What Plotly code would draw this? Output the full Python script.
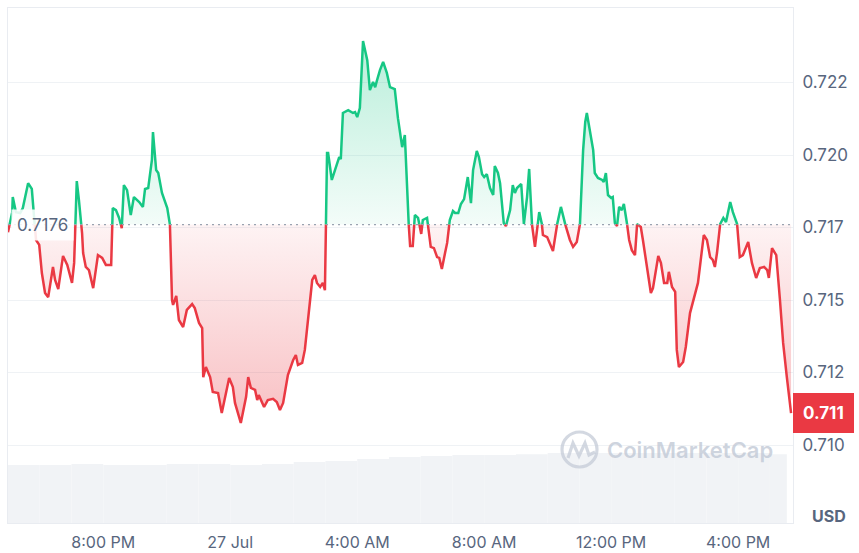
import plotly.graph_objects as go
from datetime import datetime, timedelta

# ---------------- data ----------------
START = datetime(2024, 7, 26, 17, 0)
BASELINE = 0.7176

# minutes since START
minutes = [0, 8, 9, 15, 23, 28, 38, 45, 49, 53, 59, 64, 70, 76, 85, 89, 95, 104, 112, 121,
           125, 130, 134, 140, 142, 147, 153, 161, 170, 178, 185, 195, 198, 204, 210, 215, 219, 225, 232, 238,
           248, 255, 259, 265, 268, 272, 274, 280, 284, 291, 301, 306, 310, 312, 318, 323, 331, 338, 348, 353,
           361, 367, 369, 374, 382, 387, 397, 404, 410, 418, 425, 429, 440, 450, 454, 459, 467, 471, 474, 484,
           491, 501, 508, 514, 520, 529, 539, 544, 548, 556, 561, 567, 575, 580, 584, 590, 595, 599, 603, 605,
           612, 618, 626, 629, 633, 643, 652, 656, 660, 665, 671, 679, 684, 690, 694, 697, 703, 709, 716, 722,
           731, 737, 745, 750, 756, 760, 765, 769, 775, 781, 784, 792, 799, 805, 811, 815, 820, 826, 830, 835,
           841, 845, 851, 856, 862, 869, 875, 879, 886, 890, 896, 900, 905, 911, 917, 920, 926, 930, 937, 941,
           949, 954, 958, 962, 970, 975, 981, 985, 990, 996, 1004, 1009, 1011, 1019, 1024, 1030, 1038, 1045, 1053, 1062,
           1068, 1075, 1081, 1087, 1091, 1094, 1100, 1106, 1109, 1115, 1123, 1126, 1130, 1134, 1140, 1143, 1147, 1151, 1155, 1160,
           1164, 1170, 1174, 1179, 1185, 1189, 1196, 1200, 1206, 1210, 1215, 1219, 1225, 1229, 1234, 1240, 1246, 1249, 1255, 1261,
           1264, 1268, 1276, 1281, 1289, 1297, 1304, 1315, 1321, 1327, 1332, 1336, 1340, 1346, 1352, 1357, 1365, 1370, 1378, 1383,
           1389, 1399, 1406, 1414, 1421, 1429, 1435, 1438, 1444, 1452, 1459, 1465, 1472, 1480]

prices = [0.71734, 0.71803, 0.71855, 0.71803, 0.71800, 0.71817, 0.71903, 0.71883, 0.71793, 0.71707,
          0.71690, 0.71593, 0.71524, 0.71510, 0.71614, 0.71569, 0.71538, 0.71652, 0.71621, 0.71559,
          0.71628, 0.71910, 0.71845, 0.71731, 0.71662, 0.71614, 0.71603, 0.71541, 0.71655, 0.71645,
          0.71621, 0.71621, 0.71817, 0.71810, 0.71783, 0.71748, 0.71896, 0.71879, 0.71793, 0.71855,
          0.71838, 0.71821, 0.71883, 0.71886, 0.71938, 0.71983, 0.72079, 0.71948, 0.71938, 0.71869,
          0.71817, 0.71762, 0.71500, 0.71483, 0.71514, 0.71431, 0.71407, 0.71466, 0.71486, 0.71472,
          0.71421, 0.71403, 0.71234, 0.71269, 0.71234, 0.71183, 0.71179, 0.71110, 0.71162, 0.71231,
          0.71200, 0.71145, 0.71076, 0.71166, 0.71234, 0.71197, 0.71190, 0.71155, 0.71172, 0.71131,
          0.71155, 0.71159, 0.71148, 0.71121, 0.71145, 0.71241, 0.71293, 0.71310, 0.71276, 0.71283,
          0.71328, 0.71431, 0.71569, 0.71586, 0.71559, 0.71545, 0.71559, 0.71534, 0.72007, 0.72007,
          0.71914, 0.71948, 0.71993, 0.71986, 0.72145, 0.72155, 0.72145, 0.72148, 0.72131, 0.72162,
          0.72393, 0.72327, 0.72224, 0.72252, 0.72234, 0.72255, 0.72293, 0.72321, 0.72283, 0.72234,
          0.72227, 0.72127, 0.72027, 0.72069, 0.71800, 0.71686, 0.71686, 0.71793, 0.71783, 0.71728,
          0.71776, 0.71783, 0.71683, 0.71679, 0.71648, 0.71645, 0.71607, 0.71662, 0.71697, 0.71776,
          0.71807, 0.71800, 0.71800, 0.71831, 0.71848, 0.71924, 0.71834, 0.71948, 0.72014, 0.71993,
          0.71934, 0.71924, 0.71934, 0.71886, 0.71862, 0.71962, 0.71938, 0.71903, 0.71765, 0.71755,
          0.71810, 0.71896, 0.71869, 0.71886, 0.71900, 0.71762, 0.71855, 0.71952, 0.71765, 0.71683,
          0.71803, 0.71762, 0.71724, 0.71717, 0.71697, 0.71669, 0.71762, 0.71821, 0.71762, 0.71707,
          0.71683, 0.71700, 0.71762, 0.72017, 0.72114, 0.72145, 0.72086, 0.72017, 0.71938, 0.71921,
          0.71914, 0.71907, 0.71938, 0.71862, 0.71852, 0.71855, 0.71765, 0.71755, 0.71821, 0.71810,
          0.71831, 0.71762, 0.71707, 0.71672, 0.71655, 0.71762, 0.71752, 0.71707, 0.71628, 0.71579,
          0.71524, 0.71541, 0.71603, 0.71652, 0.71628, 0.71559, 0.71559, 0.71597, 0.71545, 0.71528,
          0.71328, 0.71269, 0.71286, 0.71338, 0.71455, 0.71510, 0.71559, 0.71724, 0.71707, 0.71648,
          0.71638, 0.71614, 0.71662, 0.71762, 0.71783, 0.71769, 0.71838, 0.71803, 0.71762, 0.71648,
          0.71655, 0.71700, 0.71628, 0.71576, 0.71610, 0.71614, 0.71603, 0.71576, 0.71679, 0.71655,
          0.71500, 0.71352, 0.71234, 0.71110]

# hourly volume bars (minutes since START, relative volume)
vol_minutes = [0, 60, 120, 180, 240, 300, 360, 420, 480, 540, 600, 660, 720, 780, 840, 900,
               960, 1020, 1080, 1140, 1200, 1260, 1320, 1380, 1440]
volumes = [258, 258, 262, 258, 258, 262, 262, 258, 262, 271, 275, 284, 293, 298, 302, 302,
           306, 311, 311, 311, 311, 311, 311, 311, 306]
VOL_END_MIN = 1472

y_tickvals = [0.71, 0.7125, 0.715, 0.7175, 0.72, 0.7225]
y_ticktext = ["0.710", "0.712", "0.715", "0.717", "0.720", "0.722"]
x_tickvals = ["2024-07-26 20:00", "2024-07-27 00:00", "2024-07-27 04:00",
              "2024-07-27 08:00", "2024-07-27 12:00", "2024-07-27 16:00"]
x_ticktext = ["8:00 PM", "27 Jul", "4:00 AM", "8:00 AM", "12:00 PM", "4:00 PM"]

# ---------------- styling ----------------
GREEN = "#16c784"
RED = "#ea3943"
TEXT = "#58667e"
GRID = "#eff2f5"
FONT = "Inter"

W, H = 859, 553
ML, MR, MT, MB = 8, 66, 8, 30
PW, PH = W - ML - MR, H - MT - MB


def px(xp):
    return (xp - ML) / PW


def py(yp):
    return (H - MB - yp) / PH


times = [START + timedelta(minutes=m) for m in minutes]

# insert baseline crossings so the two colours meet exactly on the baseline
rt, rv = [], []
for i, (t, v) in enumerate(zip(times, prices)):
    if i > 0:
        t0, v0 = times[i - 1], prices[i - 1]
        if (v0 - BASELINE) * (v - BASELINE) < 0:
            f = (BASELINE - v0) / (v - v0)
            rt.append(t0 + (t - t0) * f)
            rv.append(BASELINE)
    rt.append(t)
    rv.append(v)

green_line = [v if v >= BASELINE else None for v in rv]
red_line = [v if v <= BASELINE else None for v in rv]
green_fill = [max(v, BASELINE) for v in rv]
red_fill = [min(v, BASELINE) for v in rv]
base = [BASELINE] * len(rv)

fig = go.Figure()

# volume
vol_x = [START + timedelta(minutes=m) for m in vol_minutes]
vol_w = [min(60, VOL_END_MIN - m) * 60000 for m in vol_minutes]
fig.add_trace(go.Bar(x=vol_x, y=volumes, width=vol_w, offset=0, yaxis="y2",
                     marker=dict(color="#f1f3f6", line=dict(width=0)),
                     hoverinfo="skip", showlegend=False))

# fills
fig.add_trace(go.Scatter(x=rt, y=base, mode="lines", line=dict(width=0),
                         hoverinfo="skip", showlegend=False))
fig.add_trace(go.Scatter(x=rt, y=green_fill, mode="lines", line=dict(width=0),
                         fill="tonexty",
                         fillgradient=dict(type="vertical",
                                           colorscale=[[0, "rgba(22,199,132,0.05)"],
                                                       [1, "rgba(22,199,132,0.30)"]],
                                           start=BASELINE, stop=max(prices)),
                         hoverinfo="skip", showlegend=False))
fig.add_trace(go.Scatter(x=rt, y=base, mode="lines", line=dict(width=0),
                         hoverinfo="skip", showlegend=False))
fig.add_trace(go.Scatter(x=rt, y=red_fill, mode="lines", line=dict(width=0),
                         fill="tonexty",
                         fillgradient=dict(type="vertical",
                                           colorscale=[[0, "rgba(234,57,67,0.32)"],
                                                       [1, "rgba(234,57,67,0.06)"]],
                                           start=min(prices), stop=BASELINE),
                         hoverinfo="skip", showlegend=False))

# lines
fig.add_trace(go.Scatter(x=rt, y=green_line, mode="lines",
                         line=dict(color=GREEN, width=2.5), showlegend=False))
fig.add_trace(go.Scatter(x=rt, y=red_line, mode="lines",
                         line=dict(color=RED, width=2.5), showlegend=False))

x_end = START + timedelta(minutes=PW * 1.89)

fig.update_layout(
    width=W, height=H,
    margin=dict(l=ML, r=MR, t=MT, b=MB, autoexpand=False),
    paper_bgcolor="white", plot_bgcolor="white",
    font=dict(family=FONT, color=TEXT, size=16),
    showlegend=False,
    xaxis=dict(type="date", range=[START, x_end],
               tickvals=x_tickvals, ticktext=x_ticktext,
               showgrid=False, zeroline=False,
               showline=True, linecolor="#e9ecf1", linewidth=1, mirror=True,
               ticks="outside", ticklen=5, tickcolor="rgba(0,0,0,0)",
               tickfont=dict(size=16, color=TEXT)),
    yaxis=dict(range=[0.70731, 0.72507], side="right",
               tickvals=y_tickvals, ticktext=y_ticktext,
               showgrid=True, gridcolor=GRID, gridwidth=1, zeroline=False,
               showline=True, linecolor="#e9ecf1", linewidth=1, mirror=True,
               ticks="outside", ticklen=5, tickcolor="rgba(0,0,0,0)",
               tickfont=dict(size=17, color=TEXT)),
    yaxis2=dict(domain=[0, 70 / PH], range=[0, max(volumes)], anchor="x",
                visible=False, showgrid=False),
)

# dotted baseline
fig.add_shape(type="line", xref="paper", x0=0, x1=1, yref="y", y0=BASELINE, y1=BASELINE,
              line=dict(color="#9aa3b1", width=1.2, dash="2px,4px"), layer="above")

# watermark logo
fig.add_shape(type="circle", xref="paper", yref="paper",
              x0=px(562), x1=px(597), y0=py(467), y1=py(432),
              line=dict(color="rgba(196,203,215,0.75)", width=3.2), layer="above")
logo_pts = [(568, 458), (573, 443), (579, 456), (585, 443), (589, 455), (595, 452)]
path = "M " + " L ".join(f"{px(a):.4f},{py(b):.4f}" for a, b in logo_pts)
fig.add_shape(type="path", xref="paper", yref="paper", path=path,
              line=dict(color="rgba(196,203,215,0.75)", width=3.2), layer="above")
fig.add_annotation(x=px(605), y=py(450), xref="paper", yref="paper",
                   xanchor="left", yanchor="middle", showarrow=False,
                   text="CoinMarketCap",
                   font=dict(family=FONT, size=22, color="rgba(190,198,212,0.75)", weight=600))

# baseline label
fig.add_annotation(x=px(11), y=BASELINE, xref="paper", yref="y",
                   xanchor="left", yanchor="middle", showarrow=False,
                   text=f"{BASELINE:.4f}", bgcolor="rgba(255,255,255,0.88)", borderpad=5,
                   font=dict(family=FONT, size=17, color=TEXT))

# last price label
fig.add_annotation(x=1, y=prices[-1], xref="paper", yref="y",
                   xanchor="left", yanchor="middle", showarrow=False,
                   text=f"<b>{prices[-1]:.3f}</b>", bgcolor=RED, bordercolor=RED,
                   borderpad=9, font=dict(family=FONT, size=17, color="white"))

# currency label
fig.add_annotation(x=px(829), y=py(516), xref="paper", yref="paper",
                   xanchor="center", yanchor="middle", showarrow=False,
                   text="<b>USD</b>", font=dict(family=FONT, size=16, color=TEXT))

fig.write_html("out.html")
